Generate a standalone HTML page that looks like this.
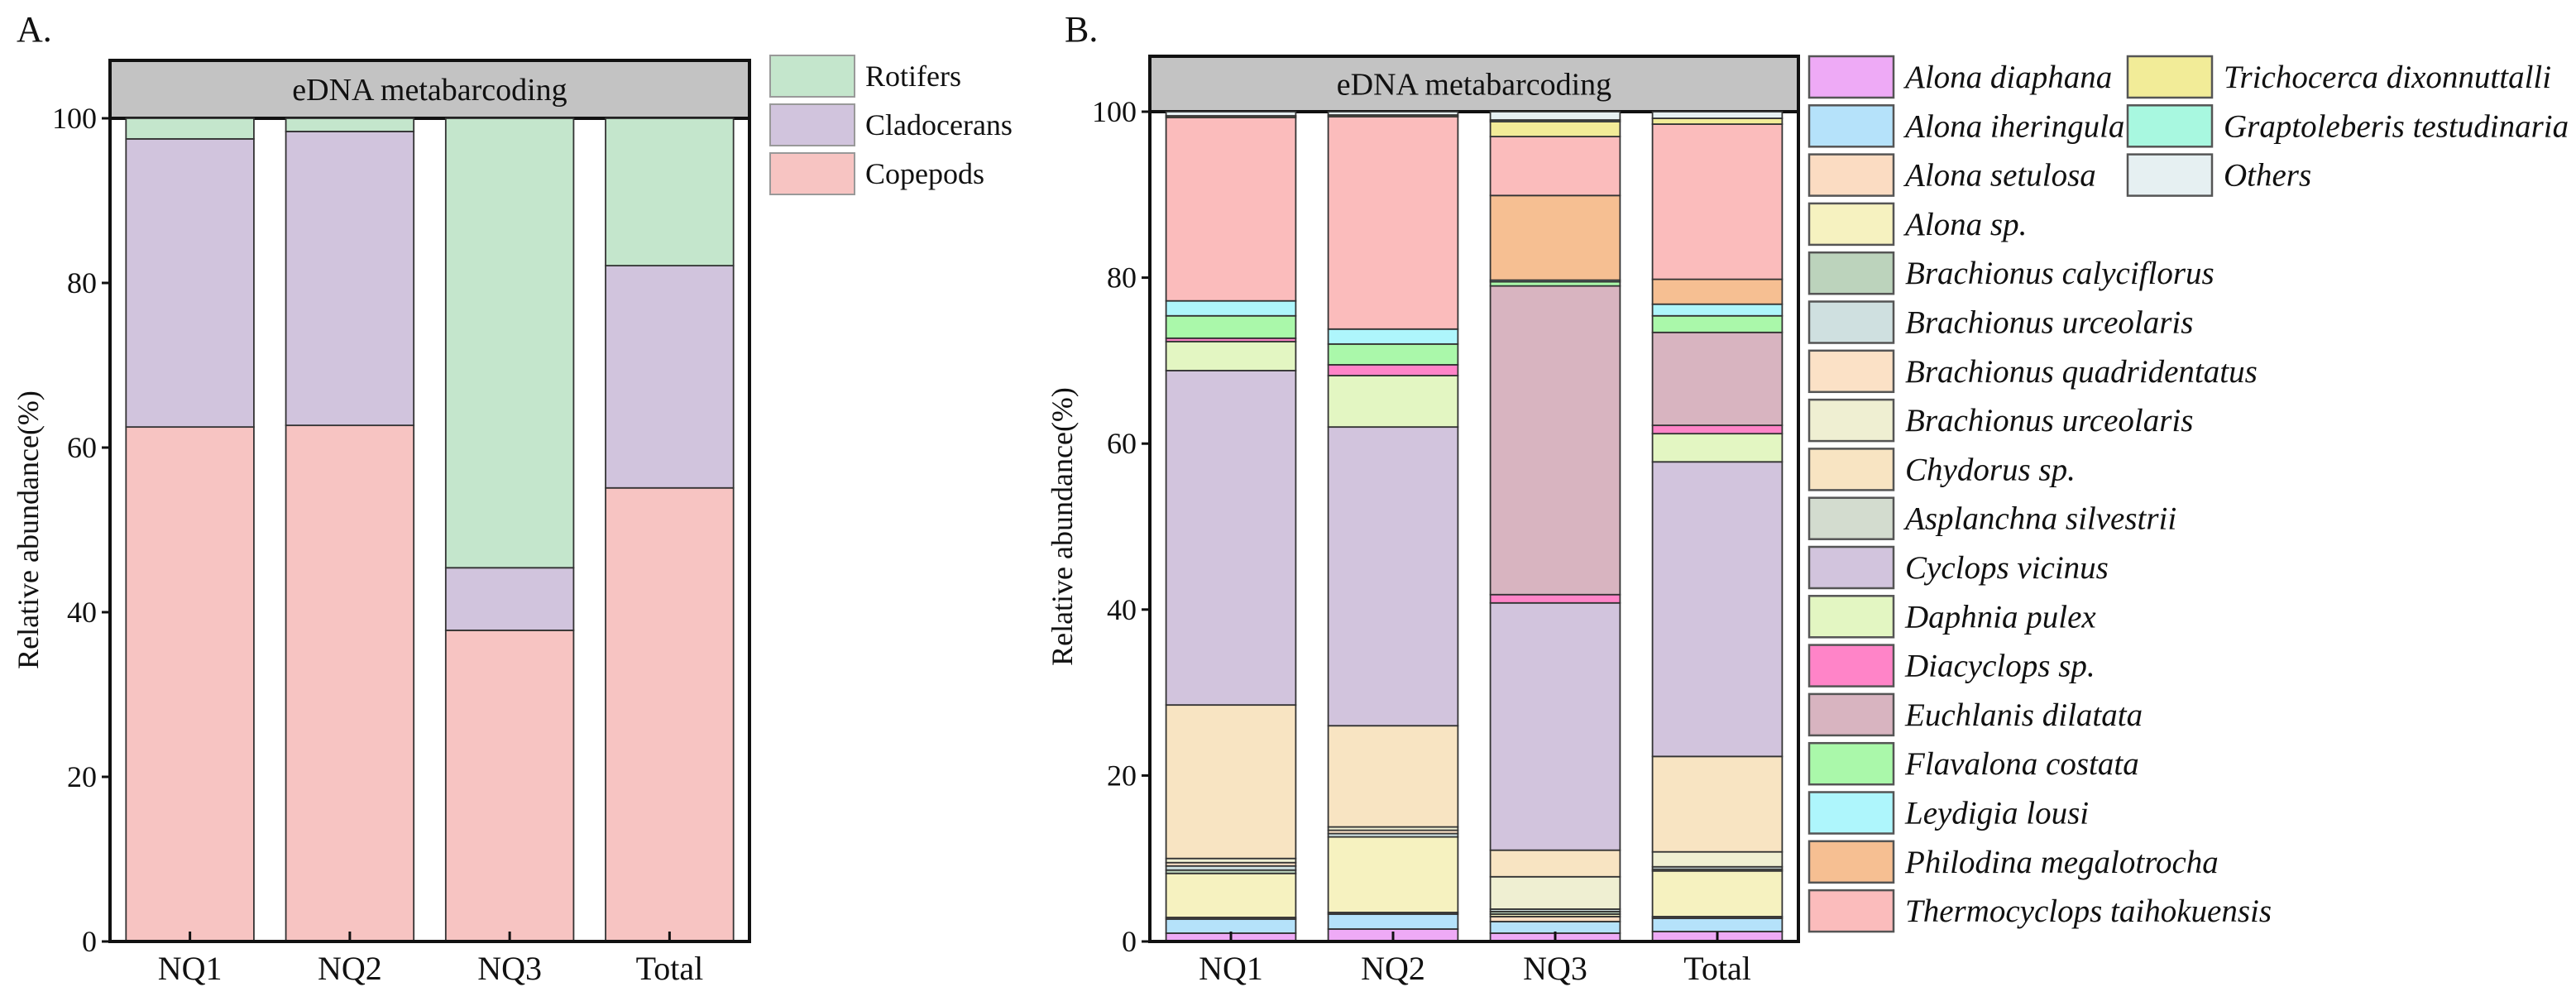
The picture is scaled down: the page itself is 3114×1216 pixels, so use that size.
<!DOCTYPE html>
<html><head><meta charset="utf-8">
<style>
html,body{margin:0;padding:0;background:#fff;}
svg{display:block;}
svg text{font-family:"Liberation Serif",serif;}
</style></head>
<body>
<svg id="chart" width="3114" height="1216" viewBox="0 0 3114 1216" xmlns="http://www.w3.org/2000/svg" font-family="Liberation Serif, serif"></svg>
<script>
// ---- Panel A data ----
const catsA = ["NQ1","NQ2","NQ3","Total"];
const groupNamesA = ["Copepods","Cladocerans","Rotifers"];
const copepods = [62.5, 62.7, 37.8, 55.1];
const cladocerans = [35.0, 35.7, 7.6, 27.0];
const rotifers = [2.5, 1.6, 54.6, 17.9];
const yTicks = [0,20,40,60,80,100];

// ---- Panel B data ----
const catsB = ["NQ1","NQ2","NQ3","Total"];
const speciesB = ["Alona diaphana","Alona iheringula","Alona setulosa","Alona sp.","Brachionus calyciflorus","Brachionus urceolaris","Brachionus quadridentatus","Brachionus urceolaris","Chydorus sp.","Asplanchna silvestrii","Cyclops vicinus","Daphnia pulex","Diacyclops sp.","Euchlanis dilatata","Flavalona costata","Leydigia lousi","Philodina megalotrocha","Thermocyclops taihokuensis","Trichocerca dixonnuttalli","Graptoleberis testudinaria","Others"];
const valsNQ1 = [1.0,1.7,0.2,5.3,0.4,0.5,0.4,0.5,18.5,0,40.3,3.5,0.4,0,2.7,1.8,0,22.1,0.2,0,0.5];
const valsNQ2 = [1.5,1.8,0.2,9.1,0,0.4,0.4,0.4,12.2,0,36,6.2,1.3,0,2.5,1.8,0,25.6,0.2,0,0.4];
const valsNQ3 = [1,1.4,0.6,0.3,0.3,0.3,0,3.9,3.2,0,29.8,0,1,37.2,0.5,0.2,10.2,7.1,1.8,0.2,1];
const valsTotal = [1.2,1.6,0.2,5.5,0.2,0.3,0,1.8,11.5,0,35.5,3.4,1,11.2,2,1.4,3,18.7,0.7,0,0.8];

const colorsA = ["#f7c4c2","#d1c4dd","#c4e6cc"];
const colorsB = ["#eeaaf6","#b5e2fa","#fbdcc2","#f6f2c0","#bcd3bc","#cfe0e0","#fbe1c6","#efefd2","#f8e4c2","#d3dccf","#d2c4dd","#e3f6c2","#ff84c8","#d8b4c0","#aaf8aa","#aef6fc","#f6bf92","#fbbcbc","#f2ec98","#a8f8e0","#e6f0f2"];

const NS="http://www.w3.org/2000/svg";
const svg=document.getElementById('chart');
function mk(tag,attrs,parent){const e=document.createElementNS(NS,tag);for(const k in attrs)e.setAttribute(k,attrs[k]);(parent||svg).appendChild(e);return e;}

function panel(opts){
  const g=mk('g',{});
  
  
  const {x0,x1,y0,y100,hTop}=opts;
  const yS=v=>y0-(y0-y100)*v/100;
  const hdr=mk('rect',{x:x0,y:hTop,width:x1-x0,height:y100-hTop,fill:'#c3c3c3',stroke:'#111','stroke-width':4},g);
  
  
  const ht=mk('text',{x:(x0+x1)/2,y:(hTop+y100)/2+13,'text-anchor':'middle','font-size':38,fill:'#111'},g);
  ht.textContent='eDNA metabarcoding';
  
  
  const n=opts.cats.length;
  const slot=(x1-x0)/n, bw=slot*0.8;
  const xC=i=>x0+slot*(i+0.5);
  opts.series.forEach((vals,ci)=>{
    let cum=0;
    vals.forEach((v,si)=>{
      if(v<=0)return;
      const r=mk('rect',{x:xC(ci)-bw/2,y:yS(cum+v),width:bw,height:yS(cum)-yS(cum+v),fill:opts.colors[si],stroke:'#333','stroke-width':1.8},g);
      
      
      cum+=v;
    });
  });
  const ax=mk('path',{d:`M${x0} ${y100} V${y0} H${x1} V${y100}`,fill:'none',stroke:'#111','stroke-width':4},g);
  
  
  yTicks.forEach(t=>{
    mk('line',{x1:x0-10,x2:x0,y1:yS(t),y2:yS(t),stroke:'#111','stroke-width':3},g);
    const tl=mk('text',{x:x0-16,y:yS(t)+12,'text-anchor':'end','font-size':36,fill:'#111'},g);
    tl.textContent=t;
    
    
  });
  opts.cats.forEach((c,i)=>{
    mk('line',{x1:xC(i),x2:xC(i),y1:y0,y2:y0-12,stroke:'#111','stroke-width':3},g);
    const cl=mk('text',{x:xC(i),y:y0+46,'text-anchor':'middle','font-size':40,fill:'#111'},g);
    cl.textContent=c;
    
    
  });
  const yt=mk('text',{x:0,y:0,'text-anchor':'middle','font-size':36,fill:'#111',transform:`translate(${opts.yTitleX},${(y0+y100)/2}) rotate(-90)`},g);
  yt.textContent='Relative abundance(%)';
  
  
  const pl=mk('text',{x:opts.labelX,y:50,'font-size':44,fill:'#111'},g);
  pl.textContent=opts.label;
  
  
}

panel({name:'panel-a',x0:133,x1:906,y0:1138,y100:143,hTop:73,cats:catsA,names:groupNamesA,
  series:catsA.map((c,i)=>[copepods[i],cladocerans[i],rotifers[i]]),colors:colorsA,yTitleX:46,labelX:20,label:'A.'});
panel({name:'panel-b',x0:1390,x1:2174,y0:1138,y100:135,hTop:68,cats:catsB,names:speciesB,
  series:[valsNQ1,valsNQ2,valsNQ3,valsTotal],colors:colorsB,yTitleX:1296,labelX:1287,label:'B.'});

const legA=mk('g',{});


[2,1,0].forEach((si,row)=>{
  const cy=92+row*59;
  const r=mk('rect',{x:931,y:cy-25,width:102,height:50,fill:colorsA[si],stroke:'#999','stroke-width':2},legA);
  
  
  const t=mk('text',{x:1046,y:cy+12,'font-size':36,fill:'#111'},legA);
  t.textContent=groupNamesA[si];
  
  
});

const legB=mk('g',{});


speciesB.forEach((s,i)=>{
  const col=i<18?0:1, row=i<18?i:i-18;
  const bx=col?2572:2187, cy=93+row*59.3;
  const r=mk('rect',{x:bx,y:cy-25,width:102,height:50,fill:colorsB[i],stroke:'#555','stroke-width':2.5},legB);
  
  
  const t=mk('text',{x:bx+116,y:cy+13,'font-size':39,'font-style':'italic',fill:'#111'},legB);
  t.textContent=s;
  
  
});
</script>
</body></html>
